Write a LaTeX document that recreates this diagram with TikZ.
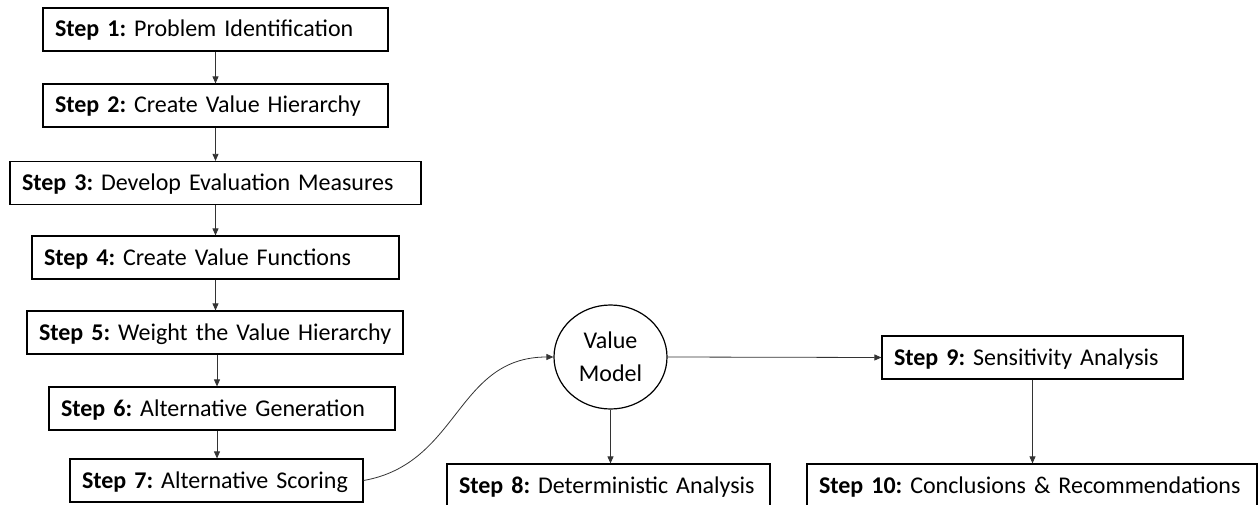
\documentclass[tikz,border=0pt]{standalone}
\usepackage{fontspec}
\setmainfont{Carlito}
\frenchspacing
\usetikzlibrary{arrows.meta,positioning,shapes.geometric}

\tikzset{
  stepbox/.style={draw, rectangle, line width=1.2pt, minimum height=43pt,
    inner xsep=12pt, inner ysep=0pt, align=left, text height=18pt, text depth=3pt,
    font=\fontsize{24}{26}\selectfont},
  flow/.style={draw=black!80, line width=0.8pt,
    -{Triangle[length=7pt,width=6pt]}},
}
\newcommand{\stp}[2]{\mbox{\textbf{Step #1:} #2}}

\begin{document}
\begin{tikzpicture}[x=1pt, y=-1pt]
  \clip (0,0) rectangle (1258,505);
  \useasboundingbox (0,0) rectangle (1258,505);
  % left column
  \node[stepbox, text width=321pt] (s1) at (215.5,29.5) {\stp{1}{Problem Identification}};
  \node[stepbox, text width=321pt] (s2) at (215.5,105.5) {\stp{2}{Create Value Hierarchy}};
  \node[stepbox, text width=387pt] (s3) at (215.5,183) {\stp{3}{Develop Evaluation Measures}};
  \node[stepbox, text width=343pt] (s4) at (215.5,257.5) {\stp{4}{Create Value Functions}};
  \node[stepbox, text width=352pt] (s5) at (215,332.5) {\stp{5}{Weight the Value Hierarchy}};
  \node[stepbox, text width=322pt] (s6) at (222,408.5) {\stp{6}{Alternative Generation}};
  \node[stepbox, text width=269pt] (s7) at (216.5,480.5) {\stp{7}{Alternative Scoring}};
  % value model and analysis
  \node[ellipse, draw, line width=1.2pt, minimum width=113pt, minimum height=104pt,
    inner sep=0pt, align=center, font=\fontsize{24}{33}\selectfont] (vm) at (610.5,357) {Value\\Model};
  \node[stepbox, text width=299pt] (s8) at (608.5,485.5) {\stp{8}{Deterministic Analysis}};
  \node[stepbox, text width=277pt] (s9) at (1032.5,357.5) {\stp{9}{Sensitivity Analysis}};
  \node[stepbox, text width=426pt] (s10) at (1032,485.5) {\stp{10}{Conclusions \& Recommendations}};

  \draw[flow] (s1.south) -- (s1.south |- s2.north);
  \draw[flow] (s2.south) -- (s2.south |- s3.north);
  \draw[flow] (s3.south) -- (s3.south |- s4.north);
  \draw[flow] (s4.south) -- (s4.south |- s5.north);
  \draw[flow] ([xshift=2pt]s5.south) -- ([xshift=2pt]s5.south |- s6.north);
  \draw[flow] ([xshift=-5pt]s6.south) -- ([xshift=-5pt]s6.south |- s7.north);
  \draw[flow] (s7.east) to[out=10, in=180, looseness=1.1] (vm.west);
  \draw[flow] (vm.south) -- (vm.south |- s8.north);
  \draw[flow] (vm.east) -- (s9.west);
  \draw[flow] (s9.south) -- (s9.south |- s10.north);
\end{tikzpicture}
\end{document}
